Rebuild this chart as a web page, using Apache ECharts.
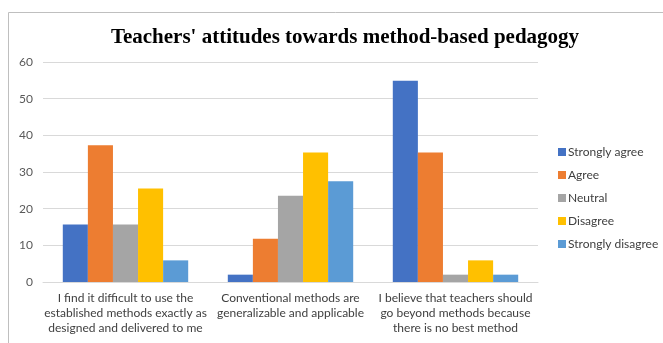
<!DOCTYPE html>
<html>
<head>
<meta charset="utf-8">
<script src="https://cdn.jsdelivr.net/npm/echarts@6/dist/echarts.min.js"></script>
<style>
  html, body { margin: 0; padding: 0; background: #fff; }
  #chart { width: 663px; height: 343px; }
</style>
</head>
<body>
<div id="chart"></div>
<script>
// Survey statements (x-axis categories)
const categories = [
  'I find it difficult to use the\nestablished methods exactly as\ndesigned and delivered to me',
  'Conventional methods are\ngeneralizable and applicable',
  'I believe that teachers should\ngo beyond methods because\nthere is no best method'
];

// Percentage of respondents per response option
const stronglyAgree    = [15.7, 2.0, 54.9];
const agree            = [37.3, 11.8, 35.3];
const neutral          = [15.7, 23.5, 2.0];
const disagree         = [25.5, 35.3, 5.9];
const stronglyDisagree = [5.9, 27.5, 2.0];

const seriesNames = ['Strongly agree', 'Agree', 'Neutral', 'Disagree', 'Strongly disagree'];
const seriesData = [stronglyAgree, agree, neutral, disagree, stronglyDisagree];
const colors = ['#4472c4', '#ed7d31', '#a5a5a5', '#ffc000', '#5b9bd5'];

const yTicks = { min: 0, max: 60, interval: 10 };

const chart = echarts.init(document.getElementById('chart'));
chart.setOption({
  animation: false,
  color: colors,
  title: {
    text: "Teachers' attitudes towards method-based pedagogy",
    left: 340,
    textAlign: 'center',
    top: 22,
    textStyle: {
      fontFamily: '"Liberation Serif", "Times New Roman", serif',
      fontWeight: 'bold',
      fontSize: 21,
      color: '#000'
    }
  },
  graphic: [{
    type: 'polyline',
    shape: { points: [[8.5, 343], [8.5, 12.5], [663, 12.5]] },
    style: { stroke: '#bfbfbf', lineWidth: 1, fill: null },
    silent: true
  }],
  legend: {
    orient: 'vertical',
    left: 553,
    top: 140,
    itemWidth: 8,
    itemHeight: 8,
    itemGap: 9,
    icon: 'rect',
    textStyle: { fontFamily: 'Lato, "Open Sans", sans-serif', fontSize: 12, lineHeight: 14, color: '#404040', padding: [0, 0, 0, -3] },
    data: seriesNames
  },
  grid: { left: 43, right: 125, top: 62, bottom: 61, containLabel: false },
  xAxis: {
    type: 'category',
    data: categories,
    axisLine: { lineStyle: { color: '#d9d9d9' } },
    axisTick: { show: false },
    axisLabel: {
      fontFamily: 'Lato, "Open Sans", sans-serif',
      fontSize: 12,
      color: '#404040',
      lineHeight: 15,
      margin: 9,
      interval: 0
    }
  },
  yAxis: {
    type: 'value',
    min: yTicks.min,
    max: yTicks.max,
    interval: yTicks.interval,
    axisLine: { show: false },
    axisTick: { show: false },
    splitLine: { lineStyle: { color: '#d9d9d9' } },
    axisLabel: {
      fontFamily: 'Lato, "Open Sans", sans-serif',
      fontSize: 12,
      color: '#595959',
      margin: 10
    }
  },
  series: seriesNames.map((name, i) => ({
    name: name,
    type: 'bar',
    data: seriesData[i],
    barGap: '0%',
    barCategoryGap: '24%',
    itemStyle: { color: colors[i] }
  }))
});
</script>
</body>
</html>
